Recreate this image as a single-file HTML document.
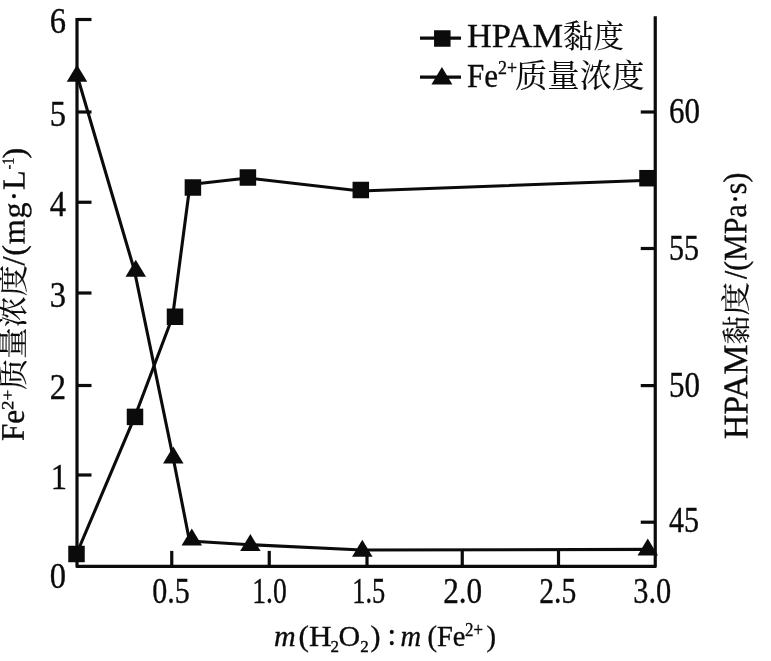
<!DOCTYPE html>
<html lang="zh"><head><meta charset="utf-8"><title>chart</title>
<style>
html,body{margin:0;padding:0;background:#fff;}
body{width:771px;height:661px;overflow:hidden;}
svg{display:block;}
text{font-family:"Liberation Serif","Noto Serif CJK SC",serif;fill:#0b0b0b;stroke:#0b0b0b;stroke-width:0.35px;}
.cj{font-family:"Noto Serif CJK SC","Liberation Serif",serif;stroke-width:0.12px;}
.it{font-style:italic;}
.b{font-weight:bold;}
</style></head><body>
<svg width="771" height="661" viewBox="0 0 771 661">
<rect width="771" height="661" fill="#fff"/>
<g fill="none" stroke="#0b0b0b" stroke-width="3.2" stroke-linecap="butt" stroke-linejoin="round">
<path d="M77.0,17.9 V566.4 H655.25 V16.2"/>
<path d="M77.0,475 h14.5"/>
<path d="M77.0,385.5 h14.5"/>
<path d="M77.0,293 h14.5"/>
<path d="M77.0,202.25 h14.5"/>
<path d="M77.0,112 h14.5"/>
<path d="M77.0,19.5 h14.5"/>
<path d="M171.75,566.4 v-15.5"/>
<path d="M269.25,566.4 v-15.5"/>
<path d="M367,566.4 v-15.5"/>
<path d="M462.25,566.4 v-15.5"/>
<path d="M558.5,566.4 v-15.5"/>
<path d="M655.25,522.2 h-14.5"/>
<path d="M655.25,385.6 h-14.5"/>
<path d="M655.25,248.5 h-14.5"/>
<path d="M655.25,112 h-14.5"/>
<polyline points="76.5,554 134.8,416.7 172.6,316.75 190,184.5 247.9,178 360.6,191 650,180.3" stroke-width="3.1"/>
<polyline points="77,75 134.3,270 173,457 189.5,541 250,544.7 362,550 650,549.4" stroke-width="3.1"/>
<path d="M420,38.2 H461"/>
<path d="M420,77.2 H461"/>
</g>
<g fill="#0b0b0b">
<rect x="68.25" y="545.75" width="16.5" height="16.5"/>
<rect x="126.75" y="408.65" width="16.5" height="16.5"/>
<rect x="166.75" y="308.50" width="16.5" height="16.5"/>
<rect x="184.65" y="179.25" width="16.5" height="16.5"/>
<rect x="239.65" y="169.25" width="16.5" height="16.5"/>
<rect x="352.55" y="181.75" width="16.5" height="16.5"/>
<rect x="639.25" y="169.95" width="16.5" height="16.5"/>
<polygon points="66.75,81.80 87.25,81.80 77.00,64.80"/>
<polygon points="125.50,276.80 146.00,276.80 135.75,259.80"/>
<polygon points="163.05,463.60 183.55,463.60 173.30,446.60"/>
<polygon points="181.55,545.50 202.05,545.50 191.80,528.50"/>
<polygon points="240.15,551.10 260.65,551.10 250.40,534.10"/>
<polygon points="352.05,556.80 372.55,556.80 362.30,539.80"/>
<polygon points="637.50,555.50 658.00,555.50 647.75,538.50"/>
<rect x="434.05" y="30.25" width="16.5" height="16.5"/>
<polygon points="431.40,84.50 452.40,84.50 441.90,67.00"/>
</g>
<g font-size="35" text-anchor="end">
<text transform="translate(66,587.8) scale(0.93,1)">0</text>
<text transform="translate(67,488.8) scale(0.93,1)">1</text>
<text transform="translate(66,399.3) scale(0.93,1)">2</text>
<text transform="translate(66,306.8) scale(0.93,1)">3</text>
<text transform="translate(66,216.05) scale(0.93,1)">4</text>
<text transform="translate(66,125.8) scale(0.93,1)">5</text>
<text transform="translate(66,33.3) scale(0.93,1)">6</text>
</g>
<g font-size="35" text-anchor="middle">
<text x="171" y="602.5" textLength="37.5" lengthAdjust="spacingAndGlyphs">0.5</text>
<text x="269.5" y="602.5" textLength="34.5" lengthAdjust="spacingAndGlyphs">1.0</text>
<text x="368.7" y="602.5" textLength="33" lengthAdjust="spacingAndGlyphs">1.5</text>
<text x="462.7" y="602.5" textLength="39" lengthAdjust="spacingAndGlyphs">2.0</text>
<text x="557.8" y="602.5" textLength="37" lengthAdjust="spacingAndGlyphs">2.5</text>
<text x="652.2" y="602.5" textLength="38" lengthAdjust="spacingAndGlyphs">3.0</text>
</g>
<g font-size="35" text-anchor="start">
<text x="669" y="531.5" textLength="30" lengthAdjust="spacingAndGlyphs">45</text>
<text x="669" y="396.90000000000003" textLength="31" lengthAdjust="spacingAndGlyphs">50</text>
<text x="669" y="259.8" textLength="30" lengthAdjust="spacingAndGlyphs">55</text>
<text x="669" y="123.3" textLength="31" lengthAdjust="spacingAndGlyphs">60</text>
</g>
<text x="467" y="46.8" font-size="33" textLength="96" lengthAdjust="spacingAndGlyphs">HPAM</text>
<text x="563" y="46.8" font-size="31" textLength="61" lengthAdjust="spacingAndGlyphs" class="cj">黏度</text>
<text x="467" y="86.5" font-size="33" textLength="31" lengthAdjust="spacingAndGlyphs">Fe</text>
<text x="498" y="74.3" font-size="18" textLength="19" lengthAdjust="spacingAndGlyphs">2+</text>
<text x="515" y="86.5" font-size="31.5" textLength="129.5" lengthAdjust="spacingAndGlyphs" class="cj">质量浓度</text>
<text x="274" y="646" font-size="30" class="it">m</text>
<text x="298.5" y="646" font-size="30" textLength="33" lengthAdjust="spacingAndGlyphs">(H</text>
<text x="330.5" y="651.5" font-size="17">2</text>
<text x="338.5" y="646" font-size="30">O</text>
<text x="360.3" y="651.5" font-size="17">2</text>
<text x="370.5" y="646" font-size="30">)</text>
<text x="387.6" y="645" font-size="31" stroke="#0b0b0b" stroke-width="1.1">:</text>
<text x="400.5" y="646" font-size="28.5" class="it">m</text>
<text x="427.5" y="646" font-size="28.5" textLength="38" lengthAdjust="spacingAndGlyphs">(Fe</text>
<text x="465" y="636" font-size="18" textLength="18" lengthAdjust="spacingAndGlyphs">2+</text>
<text x="486.5" y="646" font-size="28.5">)</text>
<g transform="translate(23.7,441) rotate(-89.8)">
<text x="0" y="0" font-size="33" textLength="31" lengthAdjust="spacingAndGlyphs">Fe</text>
<text x="31" y="-10.5" font-size="17" textLength="20" lengthAdjust="spacingAndGlyphs">2+</text>
<text x="51" y="0" font-size="31.5" textLength="125" lengthAdjust="spacingAndGlyphs" class="cj">质量浓度</text>
<text x="175.5" y="0" font-size="32" textLength="95" lengthAdjust="spacing">/(mg·L</text>
<text x="271.5" y="-11" font-size="17" textLength="12" lengthAdjust="spacingAndGlyphs">-1</text>
<text x="282.5" y="0" font-size="32">)</text>
</g>
<g transform="translate(747.6,439) rotate(-90.4)">
<text x="0" y="0" font-size="34.5" textLength="94.5" lengthAdjust="spacingAndGlyphs">HPAM</text>
<text x="94.5" y="0" font-size="29.5" textLength="29" lengthAdjust="spacingAndGlyphs" class="cj">黏</text>
<text x="123.5" y="0" font-size="30" textLength="33.5" lengthAdjust="spacingAndGlyphs" class="cj">度</text>
<text x="160" y="0" font-size="32.5" textLength="106.5" lengthAdjust="spacingAndGlyphs">/(MPa·s)</text>
</g>
</svg></body></html>
